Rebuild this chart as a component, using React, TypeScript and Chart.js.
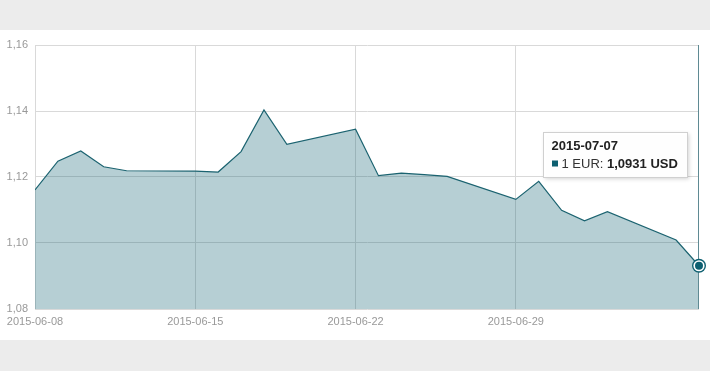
import React, { useEffect, useRef } from "react";
import { Chart, registerables } from "chart.js";

Chart.register(...registerables);

const dates: string[] = [
  "2015-06-08", "2015-06-09", "2015-06-10", "2015-06-11", "2015-06-12",
  "2015-06-15", "2015-06-16", "2015-06-17", "2015-06-18", "2015-06-19",
  "2015-06-22", "2015-06-23", "2015-06-24", "2015-06-25", "2015-06-26",
  "2015-06-29", "2015-06-30", "2015-07-01", "2015-07-02", "2015-07-03",
  "2015-07-06", "2015-07-07",
];

const rates: number[] = [
  1.1161, 1.1248, 1.1279, 1.1231, 1.1219,
  1.1218, 1.1215, 1.1277, 1.1403, 1.1299,
  1.1345, 1.1204, 1.1212, 1.1207, 1.1202,
  1.1132, 1.1187, 1.1099, 1.1067, 1.1095,
  1.1009, 1.0931,
];

const xTickLabels: string[] = ["2015-06-08", "2015-06-15", "2015-06-22", "2015-06-29"];

const seriesName = "1 EUR";
const unit = "USD";

const FONT = '"Liberation Sans", Arial, Helvetica, sans-serif';
const DARK = "#0d5f70";

const dayMs = 86400000;
const toDay = (s: string) => {
  const [y, m, d] = s.split("-").map(Number);
  return Date.UTC(y, m - 1, d);
};
const base = toDay(dates[0]);
const dayIndex = (s: string) => Math.round((toDay(s) - base) / dayMs);

const fmt = (v: number, digits: number) => v.toFixed(digits).replace(".", ",");

const hoverPlugin = {
  id: "hoverTip",
  afterDraw(chart: any) {
    const { ctx, chartArea, scales } = chart;
    const last = dates.length - 1;
    const px = scales.x.getPixelForValue(dayIndex(dates[last]));
    const py = scales.y.getPixelForValue(rates[last]);
    ctx.save();
    // crosshair line
    ctx.strokeStyle = "#5f8a93";
    ctx.lineWidth = 1;
    ctx.beginPath();
    ctx.moveTo(Math.round(px) - 0.5, chartArea.top);
    ctx.lineTo(Math.round(px) - 0.5, chartArea.bottom);
    ctx.stroke();
    // marker
    ctx.beginPath();
    ctx.arc(px, py, 7, 0, Math.PI * 2);
    ctx.fillStyle = DARK;
    ctx.fill();
    ctx.beginPath();
    ctx.arc(px, py, 5.6, 0, Math.PI * 2);
    ctx.fillStyle = "#ffffff";
    ctx.fill();
    ctx.beginPath();
    ctx.arc(px, py, 4, 0, Math.PI * 2);
    ctx.fillStyle = DARK;
    ctx.fill();

    // tooltip box
    const w = 144;
    const h = 45;
    const left = Math.round(px - 156) + 0.5;
    const top = Math.round(py - 134) + 0.5;
    ctx.shadowColor = "rgba(0,0,0,0.18)";
    ctx.shadowBlur = 4;
    ctx.shadowOffsetX = 1;
    ctx.shadowOffsetY = 1;
    ctx.fillStyle = "rgba(255,255,255,0.97)";
    ctx.fillRect(left, top, w, h);
    ctx.shadowColor = "transparent";
    ctx.strokeStyle = "#d0d0d0";
    ctx.lineWidth = 1;
    ctx.strokeRect(left, top, w, h);

    ctx.textBaseline = "alphabetic";
    ctx.textAlign = "left";
    ctx.fillStyle = "#222222";
    ctx.font = `bold 13px ${FONT}`;
    ctx.fillText(dates[last], left + 8, top + 17);

    ctx.fillStyle = DARK;
    ctx.fillRect(left + 8.5, top + 28, 6, 6);

    ctx.fillStyle = "#333333";
    ctx.font = `13px ${FONT}`;
    const label = `${seriesName}: `;
    ctx.fillText(label, left + 18, top + 35);
    const lw = ctx.measureText(label).width;
    ctx.fillStyle = "#222222";
    ctx.font = `bold 13px ${FONT}`;
    ctx.fillText(`${fmt(rates[last], 4)} ${unit}`, left + 18 + lw, top + 35);
    ctx.restore();
  },
};

export default function App() {
  const canvasRef = useRef<HTMLCanvasElement | null>(null);

  useEffect(() => {
    if (!canvasRef.current) return;
    const points = dates.map((d, i) => ({ x: dayIndex(d), y: rates[i] }));
    const tickDays = xTickLabels.map(dayIndex);
    const chart = new Chart(canvasRef.current, {
      type: "line",
      data: {
        datasets: [
          {
            label: seriesName,
            data: points,
            borderColor: "#1b6370",
            borderWidth: 1.2,
            backgroundColor: "rgba(13,95,112,0.3)",
            fill: "start",
            pointRadius: 0,
            tension: 0,
          },
        ],
      },
      options: {
        animation: false,
        responsive: false,
        maintainAspectRatio: false,
        devicePixelRatio: 1,
        layout: { padding: { top: 15, right: 11, left: 0, bottom: 0 } },
        plugins: {
          legend: { display: false },
          tooltip: { enabled: false },
        },
        events: [],
        scales: {
          x: {
            type: "linear",
            min: 0,
            max: dayIndex(dates[dates.length - 1]),
            afterBuildTicks: (scale: any) => {
              scale.ticks = tickDays.map((v) => ({ value: v }));
            },
            afterFit: (scale: any) => {
              scale.height = 31;
            },
            ticks: {
              autoSkip: false,
              maxRotation: 0,
              padding: 6,
              color: "#999999",
              font: { family: FONT, size: 11 },
              callback: (v: any) => {
                const i = tickDays.indexOf(Number(v));
                return i >= 0 ? xTickLabels[i] : "";
              },
            },
            grid: { color: "#d9d9d9", drawTicks: false },
            border: { display: false },
          },
          y: {
            min: 1.08,
            max: 1.16,
            afterFit: (scale: any) => {
              scale.width = 35;
            },
            ticks: {
              stepSize: 0.02,
              padding: 7,
              color: "#999999",
              font: { family: FONT, size: 11 },
              callback: (v: any) => fmt(Number(v), 2),
            },
            grid: { color: "#d9d9d9", drawTicks: false },
            border: { display: true, color: "#d9d9d9" },
          },
        },
      },
      plugins: [hoverPlugin],
    } as any);
    return () => chart.destroy();
  }, []);

  return (
    <div
      style={{
        position: "absolute",
        left: 0,
        top: 0,
        width: 710,
        height: 371,
        background: "#ececec",
        overflow: "hidden",
      }}
    >
      <div style={{ position: "absolute", left: 0, top: 30, width: 710, height: 310, background: "#ffffff" }}>
        <canvas ref={canvasRef} width={710} height={310} style={{ display: "block", width: 710, height: 310 }} />
      </div>
    </div>
  );
}
